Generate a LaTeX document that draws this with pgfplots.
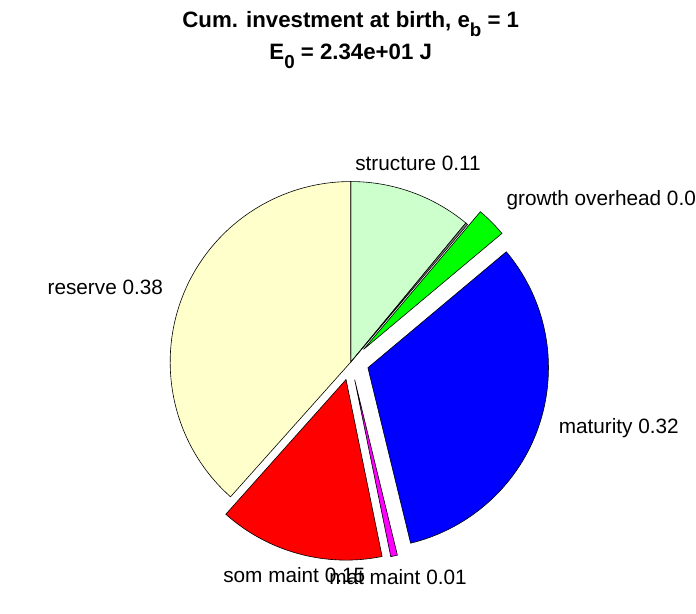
\documentclass[border=0pt]{standalone}
\usepackage{pgfplots}
\pgfplotsset{compat=1.18}
\usepackage{pgfplotstable}
\usepackage{fontspec}
\setmainfont{Liberation Sans}

\definecolor{strc}{RGB}{204,255,204}
\definecolor{slv}{RGB}{128,128,128}
\definecolor{grw}{RGB}{0,255,0}
\definecolor{mat}{RGB}{0,0,255}
\definecolor{mmt}{RGB}{255,0,255}
\definecolor{smt}{RGB}{255,0,0}
\definecolor{res}{RGB}{255,255,204}

% slices clockwise from the top, fractions of the whole
\pgfplotstableread[col sep=comma]{
label,frac,col,expl,anc
structure 0.11,0.110,strc,0,south
{},0.002,slv,0,south
growth overhead 0.03,0.027,grw,1,south west
maturity 0.32,0.323,mat,1,west
mat maint 0.01,0.006,mmt,1,north
som maint 0.15,0.148,smt,1,north
reserve 0.38,0.384,res,0,east
}\piedata

\newcommand\R{182}
\newcommand\sub[1]{\raisebox{-0.4em}{\fontsize{19}{19}\selectfont #1}}

\begin{document}
% wedge angles, explode offsets and label points
\def\acc{90}
\pgfplotsforeachungrouped \i in {0,...,6}{%
  \pgfplotstablegetelem{\i}{frac}\of\piedata\let\f\pgfplotsretval
  \pgfplotstablegetelem{\i}{expl}\of\piedata\let\e\pgfplotsretval
  \pgfmathsetmacro\aend{\acc-360*\f}%
  \pgfmathsetmacro\amid{(\acc+\aend)/2}%
  \pgfmathsetmacro\dx{\e*0.1*\R*cos(\amid)}%
  \pgfmathsetmacro\dy{\e*0.1*\R*sin(\amid)}%
  \pgfmathsetmacro\lr{(1.1+0.1*\e)*\R}%
  \pgfmathsetmacro\lx{\lr*cos(\amid)}%
  \pgfmathsetmacro\ly{\lr*sin(\amid)}%
  \expandafter\xdef\csname a\i\endcsname{\acc}%
  \expandafter\xdef\csname b\i\endcsname{\aend}%
  \expandafter\xdef\csname dx\i\endcsname{\dx}%
  \expandafter\xdef\csname dy\i\endcsname{\dy}%
  \expandafter\xdef\csname lx\i\endcsname{\lx}%
  \expandafter\xdef\csname ly\i\endcsname{\ly}%
  \pgfplotstablegetelem{\i}{col}\of\piedata
  \expandafter\xdef\csname c\i\endcsname{\pgfplotsretval}%
  \pgfplotstablegetelem{\i}{anc}\of\piedata
  \expandafter\xdef\csname an\i\endcsname{\pgfplotsretval}%
  \pgfplotstablegetelem{\i}{label}\of\piedata
  \expandafter\xdef\csname lab\i\endcsname{\pgfplotsretval}%
  \xdef\acc{\aend}%
}
\begin{tikzpicture}
\begin{axis}[
    x=1bp, y=1bp, scale only axis,
    xmin=-348, xmax=348, ymin=-253, ymax=365,
    hide axis, clip=false,
    font=\fontsize{21}{25}\selectfont,
  ]
  \pgfplotsinvokeforeach{0,...,6}{%
    \edef\tmp{\noexpand\filldraw[fill=\csname c#1\endcsname, draw=black, line width=0.6bp]
      (axis cs:\csname dx#1\endcsname,\csname dy#1\endcsname) -- ++(\csname a#1\endcsname:\R bp)
      arc[start angle=\csname a#1\endcsname, end angle=\csname b#1\endcsname, radius=\R bp] -- cycle;
      \noexpand\node[anchor=\csname an#1\endcsname, inner sep=2bp, text height=0.905em, text depth=0.212em]
      at (axis cs:\csname lx#1\endcsname,\csname ly#1\endcsname) {\csname lab#1\endcsname};}%
    \tmp
  }
  \node[anchor=base, font=\fontsize{22.5}{26}\selectfont\bfseries]
    at (axis cs:0,337) {Cum. investment at birth, e\sub{b} = 1};
  \node[anchor=base, font=\fontsize{22.5}{26}\selectfont\bfseries]
    at (axis cs:0,305) {E\sub{0} = 2.34e+01 J};
  \coordinate (bl) at (axis cs:-348,-253);
  \coordinate (tr) at (axis cs:348,365);
\end{axis}
\pgfresetboundingbox
\path (bl) rectangle (tr);
\end{tikzpicture}
\end{document}
